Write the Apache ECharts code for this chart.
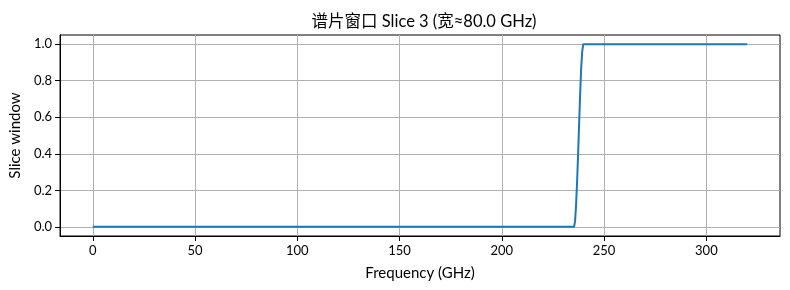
<!DOCTYPE html>
<html><head><meta charset="utf-8">
<script src="https://cdn.jsdelivr.net/npm/echarts@6/dist/echarts.min.js"></script>
<style>html,body{margin:0;padding:0;background:#fff}#c{width:790px;height:290px}</style>
</head><body><div id="c"></div>
<script>
const titleText = '谱片窗口 Slice 3 (宽≈80.0 GHz)';
const xName = 'Frequency (GHz)';
const yName = 'Slice window';
const xTicks = [0, 50, 100, 150, 200, 250, 300];
const yTicks = [0, 0.2, 0.4, 0.6, 0.8, 1.0];
const freq = [0, 235.3, 235.8, 236.3, 236.8, 237.3, 237.8, 238.3, 238.8, 239.3, 239.8, 320];
const windowVals = [0, 0, 0.03, 0.12, 0.25, 0.4, 0.57, 0.73, 0.87, 0.96, 1.0, 1.0];

const FONT = "Lato, 'Noto Sans CJK SC', sans-serif";
const chart = echarts.init(document.getElementById('c'), null, {renderer: 'canvas'});
chart.setOption({
  animation: false,
  title: {text: titleText, left: 419, top: 8, textAlign: 'center',
    textStyle: {fontFamily: FONT, fontSize: 16.5, fontWeight: 'normal', color: '#000'}},
  grid: {left: 59, right: 10, top: 35, bottom: 54, show: true, borderColor: '#000', borderWidth: 1, containLabel: false},
  xAxis: {type: 'value', min: -16, max: 336,
    name: xName, nameLocation: 'middle', nameGap: 30,
    nameTextStyle: {fontFamily: FONT, fontSize: 15, color: '#000'},
    axisLine: {show: true, onZero: false, lineStyle: {color: '#000', width: 1}},
    axisTick: {show: true, inside: false, length: 5, customValues: xTicks, lineStyle: {color: '#000'}},
    axisLabel: {customValues: xTicks, fontFamily: FONT, fontSize: 13, color: '#000', margin: 8},
    splitLine: {show: true, lineStyle: {color: '#b0b0b0', width: 1}}},
  yAxis: {type: 'value', min: -0.05, max: 1.05,
    name: yName, nameLocation: 'middle', nameGap: 35, nameRotate: 90,
    nameTextStyle: {fontFamily: FONT, fontSize: 15, color: '#000'},
    axisLine: {show: true, onZero: false, lineStyle: {color: '#000', width: 1}},
    axisTick: {show: true, inside: false, length: 5, customValues: yTicks, lineStyle: {color: '#000'}},
    axisLabel: {customValues: yTicks, fontFamily: FONT, fontSize: 13, color: '#000', margin: 8,
      formatter: v => v.toFixed(1)},
    splitLine: {show: true, lineStyle: {color: '#b0b0b0', width: 1}}},
  series: [{type: 'line', data: freq.map((f, i) => [f, windowVals[i]]),
    showSymbol: false, symbol: 'none', smooth: false,
    lineStyle: {color: '#1f77b4', width: 2}, clip: true}]
});
</script></body></html>
